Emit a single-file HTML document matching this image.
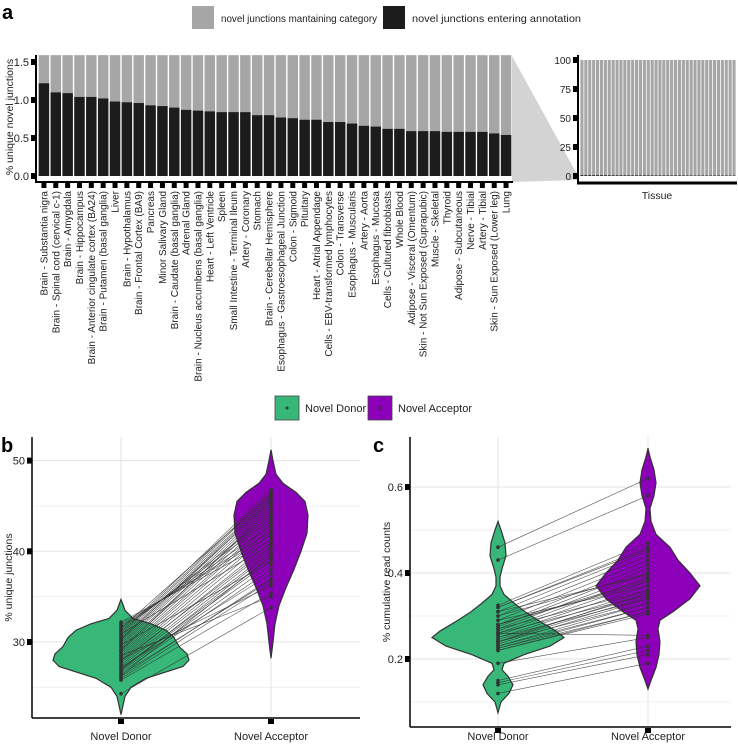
<!DOCTYPE html>
<html><head><meta charset="utf-8"><style>
body{margin:0;background:#fff}
svg{display:block;font-family:"Liberation Sans",sans-serif}
</style></head><body>
<svg id="fig" width="738" height="746" viewBox="0 0 738 746">
<text x="2" y="19" font-size="20" font-weight="bold">a</text>
<text x="1" y="452" font-size="20" font-weight="bold">b</text>
<text x="373" y="452" font-size="20" font-weight="bold">c</text>
<g>
<rect x="192" y="6" width="22" height="23" fill="#a6a6a6"/>
<text x="221" y="22" font-size="10.5" textLength="156" lengthAdjust="spacingAndGlyphs" fill="#222">novel junctions mantaining category</text>
<rect x="383" y="6" width="22" height="23" fill="#1c1c1c"/>
<text x="412" y="22" font-size="10.5" textLength="169" lengthAdjust="spacingAndGlyphs" fill="#222">novel junctions entering annotation</text>
</g>
<g>
<rect x="275" y="396" width="24" height="24" fill="#37b878" stroke="#444" stroke-width="0.8"/>
<circle cx="287" cy="408" r="1.5" fill="#333"/>
<text x="305" y="412" font-size="11" fill="#222">Novel Donor</text>
<rect x="368" y="396" width="24" height="24" fill="#8b00b8" stroke="#444" stroke-width="0.8"/>
<circle cx="380" cy="408" r="1.5" fill="#333"/>
<text x="398" y="412" font-size="11" fill="#222">Novel Acceptor</text>
</g>
<g id="ga"></g><g id="gi"></g><g id="gb"></g><g id="gc"></g>
</svg>
<script>
const tissues=["Brain - Substantia nigra","Brain - Spinal cord (cervical c-1)","Brain - Amygdala","Brain - Hippocampus","Brain - Anterior cingulate cortex (BA24)","Brain - Putamen (basal ganglia)","Liver","Brain - Hypothalamus","Brain - Frontal Cortex (BA9)","Pancreas","Minor Salivary Gland","Brain - Caudate (basal ganglia)","Adrenal Gland","Brain - Nucleus accumbens (basal ganglia)","Heart - Left Ventricle","Spleen","Small Intestine - Terminal Ileum","Artery - Coronary","Stomach","Brain - Cerebellar Hemisphere","Esophagus - Gastroesophageal Junction","Colon - Sigmoid","Pituitary","Heart - Atrial Appendage","Cells - EBV-transformed lymphocytes","Colon - Transverse","Esophagus - Muscularis","Artery - Aorta","Esophagus - Mucosa","Cells - Cultured fibroblasts","Whole Blood","Adipose - Visceral (Omentum)","Skin - Not Sun Exposed (Suprapubic)","Muscle - Skeletal","Thyroid","Adipose - Subcutaneous","Nerve - Tibial","Artery - Tibial","Skin - Sun Exposed (Lower leg)","Lung"];
const enteringPct=[1.22,1.10,1.09,1.04,1.04,1.02,0.98,0.97,0.96,0.93,0.92,0.90,0.87,0.86,0.85,0.84,0.84,0.84,0.80,0.80,0.77,0.76,0.74,0.74,0.71,0.71,0.69,0.66,0.65,0.62,0.62,0.59,0.59,0.59,0.58,0.58,0.58,0.58,0.56,0.54];
const totalPct=1.59;
const ticksA=[0,0.5,1.0,1.5];
const ticksInset=[0,25,50,75,100];
const insetTotal=100;
const donorB=[24.3,25.8,26.0,26.2,26.4,26.6,26.8,27.0,27.1,27.3,27.5,27.7,27.9,28.0,28.2,28.4,28.6,28.8,29.0,29.2,29.4,29.6,29.8,30.0,30.2,30.4,30.6,30.8,31.0,31.2,31.4,31.6,31.8,32.0,32.2,28.5,27.2,26.9,29.1,30.3,31.5,30.9,29.7,28.1,26.3];
const acceptorB=[33.8,35.4,36.5,37.0,36.8,38.0,38.5,39.0,39.3,40.0,40.4,41.0,40.6,41.5,42.0,42.5,43.0,43.3,43.8,44.2,44.5,45.0,45.3,45.6,45.8,46.0,46.3,46.5,46.8,44.0,43.5,42.8,42.2,41.8,41.2,35.0,37.5,39.8,44.8,45.5,46.2,40.8,38.8,36.2,39.5];
const ticksB=[30,40,50];
const minorB=[25,35,45];
const donorC=[0.46,0.43,0.325,0.32,0.31,0.30,0.29,0.28,0.275,0.27,0.265,0.26,0.255,0.25,0.245,0.24,0.235,0.23,0.225,0.22,0.32,0.30,0.28,0.26,0.25,0.24,0.23,0.225,0.27,0.29,0.19,0.15,0.145,0.14,0.12,0.31,0.26,0.24,0.22,0.28];
const acceptorC=[0.62,0.58,0.47,0.46,0.45,0.44,0.43,0.42,0.41,0.40,0.39,0.38,0.37,0.36,0.35,0.345,0.34,0.33,0.32,0.31,0.455,0.40,0.38,0.35,0.34,0.33,0.32,0.31,0.36,0.37,0.25,0.23,0.22,0.21,0.19,0.395,0.255,0.355,0.305,0.385];
const ticksC=[0.2,0.4,0.6];
const minorC=[0.1,0.3,0.5];
const violinDonorBv=[22,23,24,25,26,26.7,27.3,28,28.7,29.5,30.5,31.3,32,32.6,33.5,34.7];
const violinDonorBw=[0,2,4,10,25,45,62,68,66,58,53,45,30,12,4,0];
const violinAccBv=[28.2,30,32,34,36,38,40,42,44,45.5,46.5,47.5,48.5,50,51.2];
const violinAccBw=[0,2,4,8,15,23,30,36,37,34,25,12,5,2,0];
const violinDonorCv=[0.075,0.1,0.12,0.14,0.16,0.175,0.19,0.21,0.23,0.25,0.265,0.29,0.31,0.33,0.35,0.37,0.39,0.41,0.44,0.47,0.5,0.52];
const violinDonorCw=[0,3,11,15,10,4,6,26,52,66,58,40,27,16,6,2,2,4,8,7,3,0];
const violinAccCv=[0.13,0.15,0.18,0.21,0.24,0.27,0.29,0.31,0.34,0.37,0.4,0.43,0.46,0.49,0.52,0.55,0.58,0.61,0.64,0.67,0.69];
const violinAccCw=[0,3,8,11,12,10,12,25,42,52,42,30,22,8,3,2,6,8,6,2,0];

const NS="http://www.w3.org/2000/svg";
function mk(p,t,a){const e=document.createElementNS(NS,t);for(const k in a)e.setAttribute(k,a[k]);p.appendChild(e);return e;}

// Panel a
const ga=document.getElementById('ga');
const ayA=v=>176-v*76;
const ax0=38,ax1=512,step=(ax1-ax0)/tissues.length;
mk(ga,'polygon',{points:"512,56 578,176 578,180 512,182",fill:"#d3d3d3"});
tissues.forEach((t,i)=>{
  const x=ax0+i*step+0.7,w=step-1.4;
  let r=mk(ga,'rect',{x:x,y:ayA(totalPct),width:w,height:ayA(0)-ayA(totalPct),fill:"#a6a6a6"});
  
  
  r=mk(ga,'rect',{x:x,y:ayA(enteringPct[i]),width:w,height:ayA(0)-ayA(enteringPct[i]),fill:"#1c1c1c"});
  
  
  const cx=x+w/2;
  mk(ga,'rect',{x:cx-2.5,y:183,width:5,height:5,fill:"#000"});
  const tx=mk(ga,'text',{x:0,y:0,transform:`translate(${cx+3.5},191) rotate(-90)`,"text-anchor":"end","font-size":"10",fill:"#222"});
  tx.textContent=t;
  
  
});
mk(ga,'line',{x1:36,y1:55,x2:36,y2:182,stroke:"#000","stroke-width":2});
mk(ga,'line',{x1:35,y1:182,x2:513,y2:182,stroke:"#000","stroke-width":2});
ticksA.forEach(v=>{
  mk(ga,'rect',{x:31,y:ayA(v)-3,width:5,height:6,fill:"#000"});
  const t=mk(ga,'text',{x:29,y:ayA(v)+4,"text-anchor":"end","font-size":"11",fill:"#222"});
  t.textContent=v.toFixed(1);
  
  
});
let yt=mk(ga,'text',{transform:"translate(13,117) rotate(-90)","text-anchor":"middle","font-size":"10.5",fill:"#222"});
yt.textContent="% unique novel junctions";



// Inset
const gi=document.getElementById('gi');
const ayI=v=>176-v*1.16;
const i0=580,i1=736,istep=(i1-i0)/tissues.length;
tissues.forEach((t,i)=>{
  const x=i0+i*istep+0.4,w=istep-0.8;
  const r=mk(gi,'rect',{x:x,y:ayI(insetTotal),width:w,height:ayI(0)-ayI(insetTotal),fill:"#a6a6a6"});
  
  
  const pct=enteringPct[i]/totalPct;
  mk(gi,'rect',{x:x,y:ayI(pct),width:w,height:ayI(0)-ayI(pct),fill:"#1c1c1c"});
});
mk(gi,'line',{x1:578,y1:55,x2:578,y2:183,stroke:"#000","stroke-width":2});
mk(gi,'line',{x1:577,y1:183,x2:737,y2:183,stroke:"#000","stroke-width":3});
ticksInset.forEach(v=>{
  mk(gi,'rect',{x:573,y:ayI(v)-3,width:5,height:6,fill:"#000"});
  const t=mk(gi,'text',{x:571,y:ayI(v)+4,"text-anchor":"end","font-size":"10",fill:"#222"});
  t.textContent=v;
  
  
});
let it=mk(gi,'text',{x:657,y:199,"text-anchor":"middle","font-size":"10.5",fill:"#222"});
it.textContent="Tissue";



// Violin panels
function violinPath(cx,ys,vs,ws){
  let l=[],r=[];
  vs.forEach((v,i)=>{r.push((cx+ws[i])+","+ys(v));l.push((cx-ws[i])+","+ys(v));});
  return "M"+r.join(" L")+" L"+l.reverse().join(" L")+"Z";
}
function panel(g,o){
  const ys=o.ys;
  o.minor.forEach(v=>mk(g,'line',{x1:o.x0,x2:o.x1,y1:ys(v),y2:ys(v),stroke:"#f0f0f0"}));
  o.ticks.forEach(v=>mk(g,'line',{x1:o.x0,x2:o.x1,y1:ys(v),y2:ys(v),stroke:"#e3e3e3"}));
  [o.cd,o.ca].forEach(x=>mk(g,'line',{x1:x,x2:x,y1:o.top,y2:o.bot,stroke:"#e3e3e3"}));
  let p=mk(g,'path',{d:violinPath(o.cd,ys,o.dv,o.dw),fill:"#37b878",stroke:"#333","stroke-width":1.2});
  
  
  p=mk(g,'path',{d:violinPath(o.ca,ys,o.av,o.aw),fill:"#8b00b8",stroke:"#333","stroke-width":1.2});
  
  
  o.d.forEach((v,i)=>{
    const l=mk(g,'line',{x1:o.cd,y1:ys(v),x2:o.ca,y2:ys(o.a[i]),stroke:"#333","stroke-width":0.6,"stroke-opacity":0.85});
    
    
  });
  o.d.forEach(v=>{const c=mk(g,'circle',{cx:o.cd,cy:ys(v),r:1.8,fill:"#333"});
    
    });
  o.a.forEach(v=>{const c=mk(g,'circle',{cx:o.ca,cy:ys(v),r:1.8,fill:"#333"});
    
    });
  mk(g,'line',{x1:o.x0,y1:o.top,x2:o.x0,y2:o.bot,stroke:"#000","stroke-width":1.5});
  mk(g,'line',{x1:o.x0,y1:o.bot,x2:o.x1,y2:o.bot,stroke:"#000","stroke-width":1.5});
  o.ticks.forEach(v=>{
    mk(g,'rect',{x:o.x0-5,y:ys(v)-3,width:5,height:6,fill:"#000"});
    const t=mk(g,'text',{x:o.x0-7,y:ys(v)+4,"text-anchor":"end","font-size":"11",fill:"#222"});
    t.textContent=o.fmt(v);
    
    
  });
  [[o.cd,"Novel Donor"],[o.ca,"Novel Acceptor"]].forEach(([x,s])=>{
    mk(g,'rect',{x:x-3,y:o.bot+1,width:6,height:5,fill:"#000"});
    const t=mk(g,'text',{x:x,y:740,"text-anchor":"middle","font-size":"11",fill:"#222"});
    t.textContent=s;
    
    
  });
  const yt=mk(g,'text',{transform:`translate(${o.x0-20},${(o.top+o.bot)/2}) rotate(-90)`,"text-anchor":"middle","font-size":"10.5",fill:"#222"});
  yt.textContent=o.title;
  
  
}
panel(document.getElementById('gb'),{ys:v=>642-(v-30)*9.07,x0:32,x1:360,top:437,bot:718,cd:121,ca:271,
  ticks:ticksB,minor:minorB,dv:violinDonorBv,dw:violinDonorBw,av:violinAccBv,aw:violinAccBw,d:donorB,a:acceptorB,
  fmt:v=>String(v),title:"% unique junctions"});
panel(document.getElementById('gc'),{ys:v=>659-(v-0.2)*430,x0:410,x1:731,top:437,bot:727,cd:498,ca:648,
  ticks:ticksC,minor:minorC,dv:violinDonorCv,dw:violinDonorCw,av:violinAccCv,aw:violinAccCw,d:donorC,a:acceptorC,
  fmt:v=>v.toFixed(1),title:"% cumulative read counts"});
</script>
</body></html>
